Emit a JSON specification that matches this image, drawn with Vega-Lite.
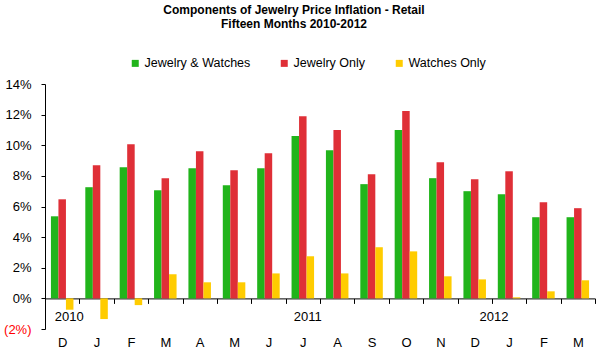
{
  "$schema": "https://vega.github.io/schema/vega-lite/v6.json",
  "width": 550,
  "height": 245,
  "autosize": "none",
  "padding": {"left": 45, "top": 84, "right": 9, "bottom": 30},
  "background": "white",
  "config": {
    "font": "Liberation Sans",
    "view": {"stroke": null},
    "axis": {"grid": false, "labelFont": "Liberation Sans", "labelColor": "black", "domainColor": "black", "tickColor": "black"},
    "axisY": {"labelOverlap": false}
  },
  "title": {
    "text": ["Components of Jewelry Price Inflation - Retail", "Fifteen Months 2010-2012"],
    "font": "Liberation Sans",
    "fontSize": 12,
    "fontWeight": "bold",
    "color": "black",
    "anchor": "middle",
    "dx": -26,
    "offset": 26,
    "lineHeight": 14
  },
  "datasets": {
    "years": [
      {"period": "Dec 2010", "year": "2010"},
      {"period": "Jul 2011", "year": "2011"},
      {"period": "Jan 2012", "year": "2012"}
    ]
  },
  "data": {
    "values": [
      {"period": "Dec 2010", "series": "Jewelry & Watches", "value": 5.36},
      {"period": "Dec 2010", "series": "Jewelry Only", "value": 6.47},
      {"period": "Dec 2010", "series": "Watches Only", "value": -0.74},
      {"period": "Jan 2011", "series": "Jewelry & Watches", "value": 7.26},
      {"period": "Jan 2011", "series": "Jewelry Only", "value": 8.7},
      {"period": "Jan 2011", "series": "Watches Only", "value": -1.35},
      {"period": "Feb 2011", "series": "Jewelry & Watches", "value": 8.57},
      {"period": "Feb 2011", "series": "Jewelry Only", "value": 10.07},
      {"period": "Feb 2011", "series": "Watches Only", "value": -0.44},
      {"period": "Mar 2011", "series": "Jewelry & Watches", "value": 7.06},
      {"period": "Mar 2011", "series": "Jewelry Only", "value": 7.85},
      {"period": "Mar 2011", "series": "Watches Only", "value": 1.57},
      {"period": "Apr 2011", "series": "Jewelry & Watches", "value": 8.5},
      {"period": "Apr 2011", "series": "Jewelry Only", "value": 9.61},
      {"period": "Apr 2011", "series": "Watches Only", "value": 1.05},
      {"period": "May 2011", "series": "Jewelry & Watches", "value": 7.39},
      {"period": "May 2011", "series": "Jewelry Only", "value": 8.37},
      {"period": "May 2011", "series": "Watches Only", "value": 1.05},
      {"period": "Jun 2011", "series": "Jewelry & Watches", "value": 8.5},
      {"period": "Jun 2011", "series": "Jewelry Only", "value": 9.48},
      {"period": "Jun 2011", "series": "Watches Only", "value": 1.63},
      {"period": "Jul 2011", "series": "Jewelry & Watches", "value": 10.6},
      {"period": "Jul 2011", "series": "Jewelry Only", "value": 11.9},
      {"period": "Jul 2011", "series": "Watches Only", "value": 2.75},
      {"period": "Aug 2011", "series": "Jewelry & Watches", "value": 9.68},
      {"period": "Aug 2011", "series": "Jewelry Only", "value": 10.99},
      {"period": "Aug 2011", "series": "Watches Only", "value": 1.63},
      {"period": "Sep 2011", "series": "Jewelry & Watches", "value": 7.46},
      {"period": "Sep 2011", "series": "Jewelry Only", "value": 8.11},
      {"period": "Sep 2011", "series": "Watches Only", "value": 3.34},
      {"period": "Oct 2011", "series": "Jewelry & Watches", "value": 10.99},
      {"period": "Oct 2011", "series": "Jewelry Only", "value": 12.23},
      {"period": "Oct 2011", "series": "Watches Only", "value": 3.07},
      {"period": "Nov 2011", "series": "Jewelry & Watches", "value": 7.85},
      {"period": "Nov 2011", "series": "Jewelry Only", "value": 8.89},
      {"period": "Nov 2011", "series": "Watches Only", "value": 1.44},
      {"period": "Dec 2011", "series": "Jewelry & Watches", "value": 7.0},
      {"period": "Dec 2011", "series": "Jewelry Only", "value": 7.78},
      {"period": "Dec 2011", "series": "Watches Only", "value": 1.24},
      {"period": "Jan 2012", "series": "Jewelry & Watches", "value": 6.8},
      {"period": "Jan 2012", "series": "Jewelry Only", "value": 8.3},
      {"period": "Jan 2012", "series": "Watches Only", "value": 0.07},
      {"period": "Feb 2012", "series": "Jewelry & Watches", "value": 5.3},
      {"period": "Feb 2012", "series": "Jewelry Only", "value": 6.28},
      {"period": "Feb 2012", "series": "Watches Only", "value": 0.46},
      {"period": "Mar 2012", "series": "Jewelry & Watches", "value": 5.3},
      {"period": "Mar 2012", "series": "Jewelry Only", "value": 5.89},
      {"period": "Mar 2012", "series": "Watches Only", "value": 1.18}
    ]
  },
  "layer": [
    {
      "mark": {"type": "bar"},
      "encoding": {
        "x": {
          "field": "period", "type": "nominal", "sort": null,
          "scale": {"paddingInner": 0, "paddingOuter": 0},
          "axis": {
            "title": null, "orient": "bottom", "offset": -30.6,
            "labelExpr": "substring(datum.label, 0, 1)",
            "labelAngle": 0, "labelFontSize": 13, "labelPadding": 33,
            "tickBand": "extent", "tickSize": 5, "tickWidth": 1,
            "domainWidth": 1
          }
        },
        "xOffset": {"field": "series", "type": "nominal", "sort": ["Jewelry & Watches", "Jewelry Only", "Watches Only"], "scale": {"paddingInner": 0, "paddingOuter": 0.79}},
        "y": {
          "field": "value", "type": "quantitative",
          "scale": {"domain": [-2, 14], "nice": false, "zero": true},
          "axis": {
            "title": null, "values": [-2, 0, 2, 4, 6, 8, 10, 12, 14], "tickCount": 20,
            "labelExpr": "datum.value < 0 ? '(' + abs(datum.value) + '%)' : datum.value + '%'",
            "labelColor": {"condition": {"test": "datum.value < 0", "value": "#ff0000"}, "value": "black"},
            "labelOverlap": false, "labelFlush": false,
            "labelFontSize": 13, "labelPadding": 10, "tickSize": 4, "domainWidth": 1
          }
        },
        "color": {
          "field": "series", "type": "nominal",
          "scale": {"domain": ["Jewelry & Watches", "Jewelry Only", "Watches Only"], "range": ["#21B41B", "#DF2F37", "#FFCC00"]},
          "legend": {
            "title": null, "orient": "none", "direction": "horizontal",
            "legendX": 84, "legendY": -27,
            "symbolType": "square", "symbolSize": 49, "symbolStrokeWidth": 0,
            "labelFontSize": 12.5, "labelFont": "Liberation Sans", "labelColor": "black",
            "labelOffset": 3, "columnPadding": 27, "padding": 0
          }
        }
      }
    },
    {
      "data": {"name": "years"},
      "transform": [{"filter": "datum.year == '2010'"}],
      "mark": {"type": "text", "fontSize": 13, "color": "black", "dx": 7, "baseline": "middle"},
      "encoding": {"x": {"field": "period", "type": "nominal", "sort": null}, "y": {"datum": -1.2}, "text": {"field": "year"}}
    },
    {
      "data": {"name": "years"},
      "transform": [{"filter": "datum.year == '2011'"}],
      "mark": {"type": "text", "fontSize": 13, "color": "black", "dx": 5, "baseline": "middle"},
      "encoding": {"x": {"field": "period", "type": "nominal", "sort": null}, "y": {"datum": -1.2}, "text": {"field": "year"}}
    },
    {
      "data": {"name": "years"},
      "transform": [{"filter": "datum.year == '2012'"}],
      "mark": {"type": "text", "fontSize": 13, "color": "black", "dx": -15, "baseline": "middle"},
      "encoding": {"x": {"field": "period", "type": "nominal", "sort": null}, "y": {"datum": -1.2}, "text": {"field": "year"}}
    }
  ]
}
